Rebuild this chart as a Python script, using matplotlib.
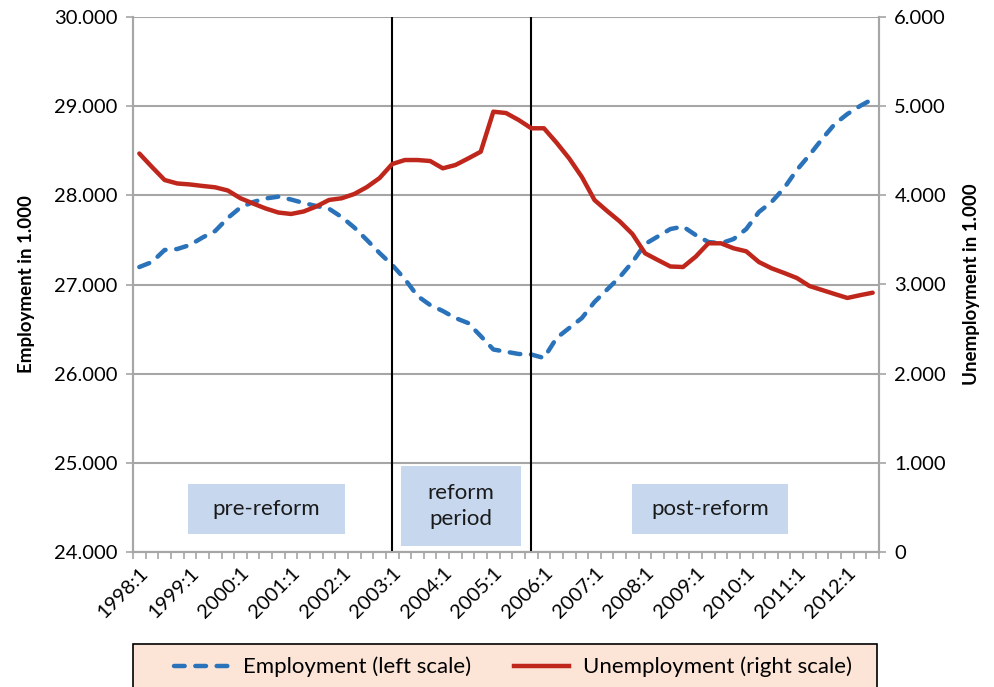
import matplotlib.pyplot as plt
from matplotlib.patches import Rectangle
from matplotlib.lines import Line2D

plt.rcParams['font.family'] = ['Lato', 'DejaVu Sans']

# quarterly data 1998:1 .. 2012:3 (in 1.000)
quarters = [f'{y}:{q}' for y in range(1998, 2013) for q in range(1, 5)][:59]

employment = [27196, 27252, 27387, 27398, 27443, 27527, 27600, 27746,
              27864, 27925, 27965, 27985, 27953, 27914, 27880, 27850,
              27757, 27639, 27499, 27353, 27219, 27061, 26871, 26770,
              26703, 26624, 26568, 26422, 26271, 26246, 26221, 26215,
              26176, 26400, 26512, 26624, 26804, 26944, 27084, 27252,
              27454, 27538, 27622, 27650, 27555, 27477, 27462, 27510,
              27622, 27813, 27925, 28082, 28284, 28452, 28632, 28800,
              28912, 29002, 29080]

unemployment = [4469, 4318, 4172, 4133, 4122, 4105, 4090, 4054,
                3967, 3908, 3852, 3807, 3791, 3819, 3875, 3948,
                3967, 4015, 4093, 4194, 4351, 4396, 4396, 4385,
                4303, 4340, 4413, 4489, 4938, 4923, 4845, 4752,
                4752, 4590, 4413, 4206, 3947, 3824, 3707, 3566,
                3350, 3275, 3202, 3196, 3312, 3462, 3462, 3406,
                3372, 3252, 3182, 3129, 3073, 2983, 2938, 2893,
                2849, 2880, 2908]

reform_start = '2003:1'
reform_end = '2005:4'

BLUE = '#2a72b9'
RED = '#c0271c'
GRID = '#a6a6a6'
BOX = '#c6d7ee'
DASH = (2.4, 2.4)


def fmt(v):
    return f'{int(round(v)):,}'.replace(',', '.')


fig = plt.figure(figsize=(9.95, 6.87), dpi=100)
ax = fig.add_axes([133 / 995, 135 / 687, 746 / 995, 535 / 687])
ax2 = ax.twinx()

x = list(range(len(quarters)))
ax.plot(x, employment, color=BLUE, lw=3.2, dashes=DASH,
        dash_capstyle='round', solid_capstyle='round', zorder=3)
ax2.plot(x, unemployment, color=RED, lw=3.2, solid_capstyle='round', zorder=3)

ax.set_xlim(-0.5, len(quarters) - 0.5)
ax.set_ylim(24000, 30000)
ax2.set_ylim(0, 6000)

lticks = list(range(24000, 30001, 1000))
rticks = list(range(0, 6001, 1000))
ax.set_yticks(lticks)
ax.set_yticklabels([fmt(v) for v in lticks])
ax2.set_yticks(rticks)
ax2.set_yticklabels([fmt(v) for v in rticks])
ax.grid(axis='y', color=GRID, lw=1.5, zorder=0)

xt = [i for i, q in enumerate(quarters) if q.endswith(':1')]
ax.set_xticks(xt)
ax.set_xticklabels([quarters[i] for i in xt], rotation=45, ha='right',
                   rotation_mode='anchor')
ax.set_xticks([i - 0.5 for i in range(len(quarters) + 1)], minor=True)
ax.tick_params(axis='x', which='major', length=0, pad=9, labelsize=14.5)
ax.tick_params(axis='x', which='minor', length=5, color=GRID, width=1.2)
ax.tick_params(axis='y', length=5, color=GRID, width=1.2, labelsize=14.5, pad=6)
ax2.tick_params(axis='y', length=5, color=GRID, width=1.2, labelsize=14.5, pad=6)

for a in (ax, ax2):
    for s in ('left', 'right', 'bottom'):
        a.spines[s].set_color(GRID)
        a.spines[s].set_linewidth(1.5)
    a.spines['top'].set_visible(False)

ax.set_ylabel('Employment in 1.000', fontsize=13.5, fontweight='bold', labelpad=14)
ax2.set_ylabel('Unemployment in 1.000', fontsize=13.5, fontweight='bold', labelpad=12)

for q in (reform_start, reform_end):
    ax.axvline(quarters.index(q), color='black', lw=1.5, zorder=4)

# period boxes
boxes = [((0.074, 0.034), 0.210, 0.093, 'pre-reform'),
         ((0.359, 0.011), 0.161, 0.150, 'reform\nperiod'),
         ((0.669, 0.034), 0.209, 0.093, 'post-reform')]
for (bx, by), bw, bh, label in boxes:
    ax.add_patch(Rectangle((bx, by), bw, bh, transform=ax.transAxes,
                           facecolor=BOX, edgecolor='none', zorder=5))
    ax.text(bx + bw / 2, by + bh / 2, label, transform=ax.transAxes,
            ha='center', va='center', fontsize=16, color='#1a1a1a',
            linespacing=1.35, zorder=6)

# legend
fig.patches.append(Rectangle((133 / 995, -0.01), 744 / 995, 50 / 687,
                             transform=fig.transFigure, facecolor='#fce4d6',
                             edgecolor='black', lw=1.2))
handles = [Line2D([], [], color=BLUE, lw=3.2, dashes=DASH,
                  dash_capstyle='round'),
           Line2D([], [], color=RED, lw=3.2)]
fig.legend(handles, ['Employment (left scale)', 'Unemployment (right scale)'],
           loc='center', bbox_to_anchor=(513 / 995, 20 / 687), ncol=2,
           frameon=False, fontsize=16, handlelength=2.5, handletextpad=0.6,
           columnspacing=1.9)

fig.savefig('out.png', dpi=100)
